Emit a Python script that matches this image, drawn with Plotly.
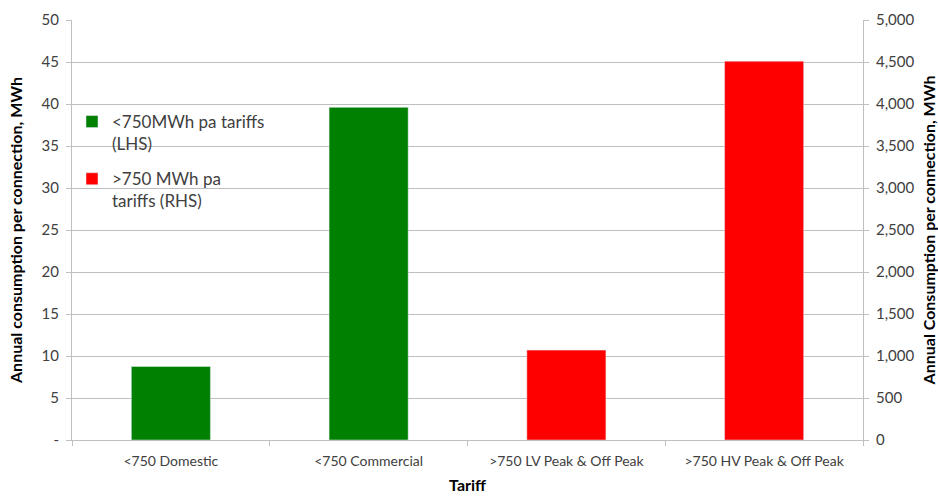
import plotly.graph_objects as go

categories = ["<750 Domestic", "<750 Commercial", ">750 LV Peak & Off Peak", ">750 HV Peak & Off Peak"]
lhs_values = [8.75, 39.6, None, None]
rhs_values = [None, None, 1070, 4510]
lhs_name = "<750MWh pa tariffs<br>(LHS)"
rhs_name = ">750 MWh pa<br>tariffs (RHS)"
left_ticks = [0, 5, 10, 15, 20, 25, 30, 35, 40, 45, 50]
left_ticktext = ["-"] + [str(v) for v in left_ticks[1:]]
right_ticks = [0, 500, 1000, 1500, 2000, 2500, 3000, 3500, 4000, 4500, 5000]

FONT = "Lato, 'Open Sans', sans-serif"
grid = "#BFBFBF"

fig = go.Figure()
fig.add_trace(go.Bar(x=categories, y=lhs_values, name=lhs_name, marker_color="#008000",
                     width=0.4, offsetgroup="a", yaxis="y", legendgroup="g1"))
fig.add_trace(go.Bar(x=categories, y=rhs_values, name=rhs_name, marker_color="#FF0000",
                     width=0.4, offsetgroup="a", yaxis="y2", legendgroup="g2"))

fig.update_layout(
    width=938, height=496,
    margin=dict(l=72, r=75, t=20, b=56, autoexpand=False),
    paper_bgcolor="white", plot_bgcolor="white",
    font=dict(family=FONT, size=14, color="#404040"),
    barmode="overlay",
    showlegend=True,
    legend=dict(x=0.0, y=0.80, xanchor="left", yanchor="top",
                font=dict(size=17, color="#404040"), bgcolor="rgba(255,255,255,0)",
                itemwidth=30, tracegroupgap=10, traceorder="grouped", valign="top"),
    xaxis=dict(
        automargin=False,
        showline=True, linecolor=grid, linewidth=1,
        ticks="outside", tickson="boundaries", ticklen=5, tickcolor=grid,
        tickfont=dict(size=14, color="#404040"), ticklabelstandoff=8,
        title=dict(text="<b>Tariff</b>", font=dict(size=16, color="#000000"), standoff=12),
    ),
    yaxis=dict(
        automargin=False,
        range=[0, 50], tickvals=left_ticks, ticktext=left_ticktext,
        showline=True, linecolor=grid, linewidth=1,
        ticks="outside", ticklen=5, tickcolor=grid,
        showgrid=True, gridcolor=grid, gridwidth=1, zeroline=False,
        tickfont=dict(size=15, color="#404040"), ticklabelstandoff=4,
        title=dict(text="<b>Annual consumption per connection, MWh</b>",
                   font=dict(size=16, color="#000000"), standoff=14),
    ),
    yaxis2=dict(
        automargin=False,
        range=[0, 5000], tickvals=right_ticks, tickformat=",",
        overlaying="y", side="right",
        showline=True, linecolor=grid, linewidth=1,
        ticks="outside", ticklen=5, tickcolor=grid,
        showgrid=False, zeroline=False,
        tickfont=dict(size=15, color="#404040"), ticklabelstandoff=4,
        title=dict(text="<b>Annual Consumption per connection, MWh</b>",
                   font=dict(size=16, color="#000000"), standoff=12),
    ),
)

fig.write_html("out.html")
